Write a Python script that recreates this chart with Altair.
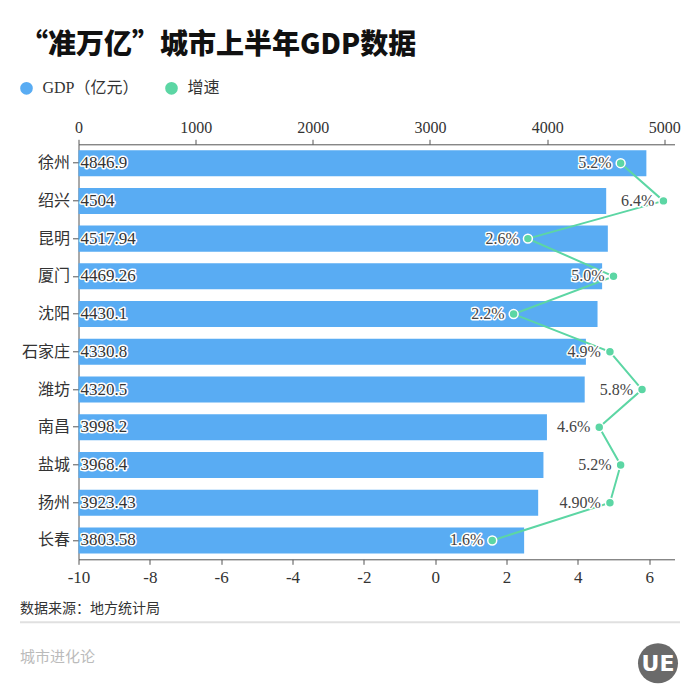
import altair as alt
import pandas as pd

cities = ["徐州", "绍兴", "昆明", "厦门", "沈阳", "石家庄", "潍坊", "南昌", "盐城", "扬州", "长春"]
gdp = [4846.9, 4504, 4517.94, 4469.26, 4430.1, 4330.8, 4320.5, 3998.2, 3968.4, 3923.43, 3803.58]
gdp_labels = ["4846.9", "4504", "4517.94", "4469.26", "4430.1", "4330.8", "4320.5",
              "3998.2", "3968.4", "3923.43", "3803.58"]
growth = [5.2, 6.4, 2.6, 5.0, 2.2, 4.9, 5.8, 4.6, 5.2, 4.9, 1.6]
growth_labels = ["5.2%", "6.4%", "2.6%", "5.0%", "2.2%", "4.9%", "5.8%", "4.6%",
                 "5.2%", "4.90%", "1.6%"]
gdp_ticks = [0, 1000, 2000, 3000, 4000, 5000]
growth_ticks = [-10, -8, -6, -4, -2, 0, 2, 4, 6]
series_names = ["GDP（亿元）", "增速"]

title_text = "“准万亿”城市上半年GDP数据"
source_text = "数据来源：地方统计局"
brand_text = "城市进化论"

df = pd.DataFrame({
    "city": cities, "gdp": gdp, "gdp_label": gdp_labels,
    "growth": growth, "growth_label": growth_labels,
    "idx": list(range(len(cities))),
    "s_gdp": series_names[0], "s_g": series_names[1],
})

BLUE = "#59acf3"
GREEN = "#5cd6a4"
SERIF = "Liberation Serif, Noto Sans CJK SC"
CJK = "Noto Sans CJK SC"
AX = "#555555"
TXT = "#333333"
PLAIN = "'' + datum.value"

y_enc = alt.Y("city:N", sort=cities,
              scale=alt.Scale(paddingInner=0.31, paddingOuter=0.155),
              axis=alt.Axis(title=None, labelFont=SERIF, labelFontSize=16, labelColor=TXT,
                            tickSize=6, tickColor=AX, domainColor=AX, labelPadding=3))

color_scale = alt.Scale(domain=series_names, range=[BLUE, GREEN])
legend = alt.Legend(title=None, orient="none", legendX=-60, legendY=-64,
                    direction="horizontal", symbolType="circle", symbolSize=160,
                    symbolStrokeWidth=0, labelFontSize=16, labelFont=SERIF,
                    labelColor=TXT, columnPadding=24, labelOffset=8)

gx_gdp = alt.X("gdp:Q", scale=alt.Scale(domain=[0, 5087], nice=False),
               axis=alt.Axis(orient="top", values=gdp_ticks, title=None, grid=False,
                             labelExpr=PLAIN,
                             labelFontSize=16, labelFont=SERIF, labelColor=TXT,
                             tickSize=5, tickColor=AX, domainColor=AX, labelPadding=4,
                             labelFlush=False))

gx_g = alt.X("growth:Q", scale=alt.Scale(domain=[-10, 6.71], nice=False, zero=False),
             axis=alt.Axis(orient="bottom", values=growth_ticks, title=None, grid=False,
                           labelExpr=PLAIN,
                           labelFontSize=17, labelFont=SERIF, labelColor=TXT,
                           tickSize=5, tickColor=AX, domainColor=AX, labelPadding=5,
                           labelFlush=False))

base = alt.Chart(df)

bars = base.mark_bar(color=BLUE).encode(
    x=gx_gdp, y=y_enc,
    color=alt.Color("s_gdp:N", scale=color_scale, legend=legend))

bar_halo = base.mark_text(align="left", baseline="middle", font=SERIF, fontSize=17,
                          stroke="white", strokeWidth=3, strokeJoin="round",
                          fill=TXT).encode(x=alt.value(2), y=y_enc, text="gdp_label:N")
bar_text = base.mark_text(align="left", baseline="middle", font=SERIF, fontSize=17,
                          fill=TXT).encode(x=alt.value(2), y=y_enc, text="gdp_label:N")

gdp_layer = alt.layer(bars, bar_halo, bar_text)

line = base.mark_line(color=GREEN, strokeWidth=2).encode(
    x=gx_g, y=y_enc, order="idx:Q")
points = base.mark_point(filled=True, size=80, stroke="white", strokeWidth=1.5,
                         opacity=1).encode(
    x=gx_g, y=y_enc,
    color=alt.Color("s_g:N", scale=color_scale, legend=legend))
g_halo = base.mark_text(align="right", baseline="middle", dx=-9, font=SERIF, fontSize=16,
                        stroke="white", strokeWidth=3, strokeJoin="round",
                        fill="#444444").encode(x=gx_g, y=y_enc, text="growth_label:N")
g_text = base.mark_text(align="right", baseline="middle", dx=-9, font=SERIF, fontSize=16,
                        fill="#444444").encode(x=gx_g, y=y_enc, text="growth_label:N")

growth_layer = alt.layer(line, points, g_halo, g_text)

foot = alt.Chart(pd.DataFrame({"t": [source_text]})).mark_text(
    align="left", baseline="alphabetic", font=CJK, fontSize=14, color=TXT
).encode(x=alt.value(-58.5), y=alt.value(469), text="t:N")

sep = alt.Chart(pd.DataFrame({"t": [0]})).mark_rule(color="#e0e0e0", strokeWidth=2).encode(
    x=alt.value(-58.5), x2=alt.value(601.5), y=alt.value(478))

brand = alt.Chart(pd.DataFrame({"t": [brand_text]})).mark_text(
    align="left", baseline="alphabetic", font=CJK, fontSize=15, color="#bbbbbb"
).encode(x=alt.value(-58.5), y=alt.value(518), text="t:N")

logo = alt.Chart(pd.DataFrame({"t": ["UE"]})).mark_point(
    shape="circle", filled=True, size=1600, color="#6a6a6a", opacity=1
).encode(x=alt.value(579.5), y=alt.value(519))
logo_t = alt.Chart(pd.DataFrame({"t": ["UE"]})).mark_text(
    align="center", baseline="middle", font="DejaVu Sans", fontSize=22, fontWeight="bold",
    color="white"
).encode(x=alt.value(579.5), y=alt.value(520), text="t:N")

chart = alt.layer(gdp_layer, growth_layer, foot, sep, brand, logo, logo_t).resolve_scale(
    x="independent"
).properties(
    width=596, height=415,
    padding={"left": 70.5, "top": 136.3, "right": 17.5, "bottom": 132.7},
    autosize="none",
    title=alt.TitleParams(title_text, anchor="start", frame="group", font=CJK,
                          fontSize=28, fontWeight=900, color="#111111",
                          dx=-58.5, offset=20),
).configure_view(stroke=None)

chart.save("out.html", embed_options={"renderer": "svg", "actions": False})
